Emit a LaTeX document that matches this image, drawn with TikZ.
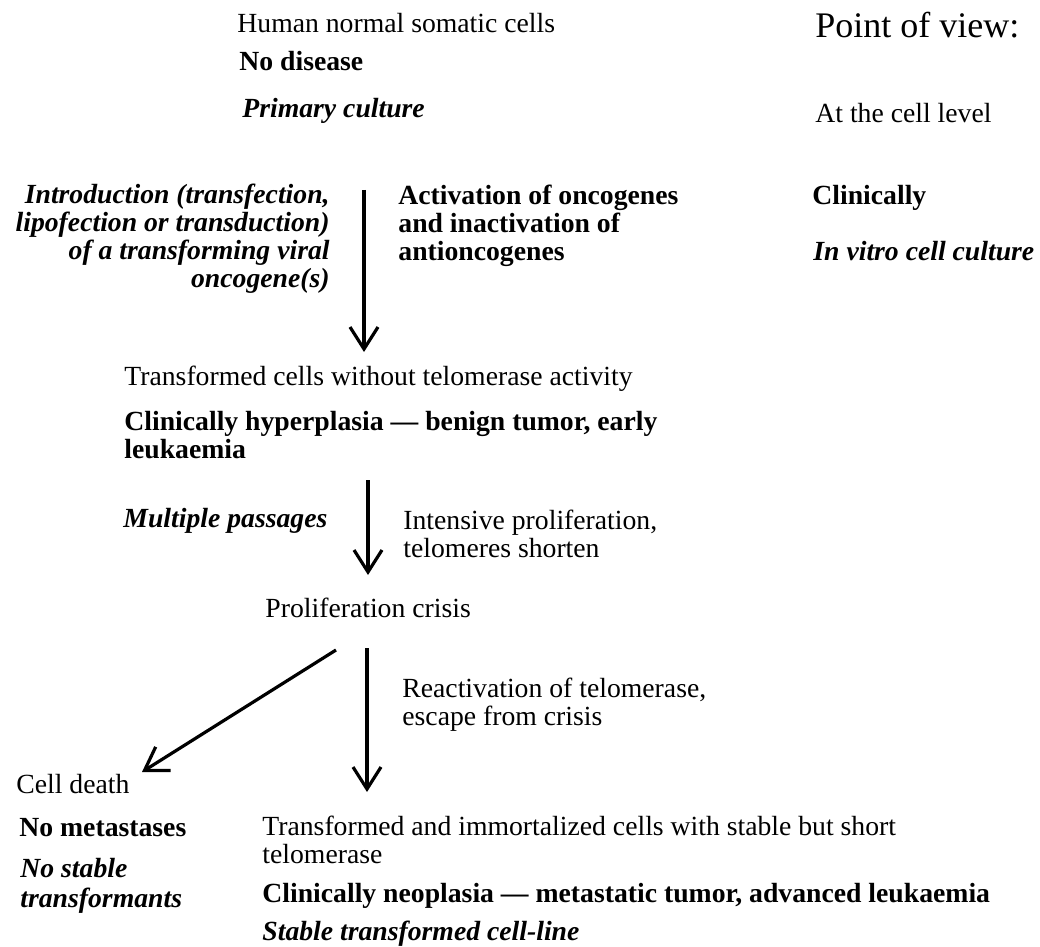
\documentclass[tikz,border=0pt]{standalone}
\usepackage{fontspec}
\setmainfont{Liberation Serif}
\usetikzlibrary{arrows.meta}
\def\txtsize{\fontsize{13.85pt}{13.85pt}\selectfont}
\def\headsize{\fontsize{18pt}{18pt}\selectfont}

\tikzset{
  plain/.style={anchor=base west, inner sep=0pt, align=left, font=\txtsize},
  strong/.style={plain, font=\txtsize\bfseries},
  strongit/.style={plain, font=\txtsize\bfseries\itshape},
  flow/.style={line width=1.6pt, -{Straight Barb[length=11pt,width=14pt,line width=1.6pt]}},
}

\begin{document}
\begin{tikzpicture}[x=0.5pt,y=-0.5pt]
  \useasboundingbox (0,0) rectangle (1040,947);
  % starting cells
  \node[plain] (human) at (237,33) {Human normal somatic cells};
  \node[strong] (nodis) at (239,71) {No disease};
  \node[strongit] (primary) at (242,118) {Primary culture};
  % point of view column
  \node[plain, font=\headsize] (pov) at (815,38) {Point of view:};
  \node[plain] (cellview) at (815,123) {At the cell level};
  \node[strong] (clin) at (812,205) {Clinically};
  \node[strongit] (invitro) at (813,260) {In vitro cell culture};
  % first step (multi-line nodes sit on their last line)
  \node[strongit, anchor=base east, align=right] (intro) at (330,287)
    {Introduction (transfection,\\lipofection or transduction)\\of a transforming viral\\oncogene(s)};
  \node[strong] (activ) at (398,260) {Activation of oncogenes\\and inactivation of\\antioncogenes};
  \coordinate (a1top) at (364,190);
  \coordinate (a1tip) at (364,352);
  \draw[flow] (a1top) -- (a1tip);
  % transformed cells
  \node[plain] (transf) at (124,385) {Transformed cells without telomerase activity};
  \node[strong] (hyper) at (124,458) {Clinically hyperplasia --- benign tumor, early\\leukaemia};
  % second step
  \node[strongit] (passages) at (123,527) {Multiple passages};
  \node[plain] (intens) at (403,557) {Intensive proliferation,\\telomeres shorten};
  \coordinate (a2top) at (368,480);
  \coordinate (a2tip) at (368,575);
  \draw[flow] (a2top) -- (a2tip);
  \node[plain] (crisis) at (265,617) {Proliferation crisis};
  % split after the crisis
  \coordinate (a3top) at (367,648);
  \coordinate (a3tip) at (367,792);
  \coordinate (dtop) at (336,650);
  \coordinate (dtip) at (142,772);
  \draw[flow] (dtop) -- (dtip);
  \draw[flow] (a3top) -- (a3tip);
  \node[plain] (react) at (402,725) {Reactivation of telomerase,\\escape from crisis};
  % cell death branch
  \node[plain] (death) at (16,793) {Cell death};
  \node[strong] (nometa) at (19,836) {No metastases};
  \node[strongit] (nostable) at (20,907) {No stable\\[1pt]transformants};
  % immortalized branch
  \node[plain] (immort) at (262,863) {Transformed and immortalized cells with stable but short\\telomerase};
  \node[strong] (neo) at (262,902) {Clinically neoplasia --- metastatic tumor, advanced leukaemia};
  \node[strongit] (stable) at (262,940) {Stable transformed cell-line};
\end{tikzpicture}
\end{document}
